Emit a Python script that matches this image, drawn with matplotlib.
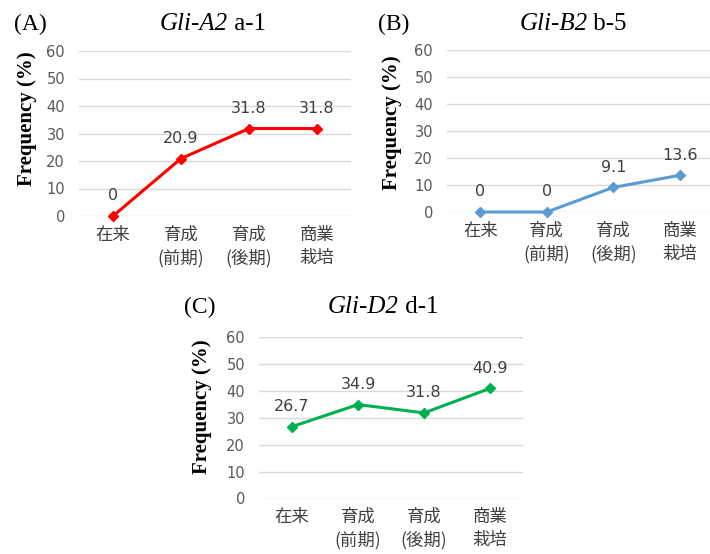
import matplotlib
matplotlib.use("Agg")
import matplotlib.pyplot as plt

categories = ["在来", "育成\n(前期)", "育成\n(後期)", "商業\n栽培"]
vals_a = [0, 20.9, 31.8, 31.8]
vals_b = [0, 0, 9.1, 13.6]
vals_d = [26.7, 34.9, 31.8, 40.9]
yticks = [0, 10, 20, 30, 40, 50, 60]

W, H = 710, 554
fig = plt.figure(figsize=(7.1, 5.54), dpi=100)
renderer = fig.canvas.get_renderer()

def px_axes(x0, x1, y0, y1):
    return fig.add_axes([x0 / W, 1 - y0 / H, (x1 - x0) / W, (y0 - y1) / H])

def two_part_title(cx, cy, it_part, rm_part, size):
    t1 = fig.text(0, 0, it_part, fontsize=size, family="Liberation Serif",
                  style="italic", va="center", ha="left")
    t2 = fig.text(0, 0, rm_part, fontsize=size, family="Liberation Serif",
                  va="center", ha="left")
    w1 = t1.get_window_extent(renderer).width
    w2 = t2.get_window_extent(renderer).width
    total = w1 + w2
    x0 = cx - total / 2
    t1.set_position((x0 / W, 1 - cy / H))
    t2.set_position(((x0 + w1) / W, 1 - cy / H))

panels = [
    dict(rect=(79, 351, 216, 51), vals=vals_a, color="#FF0000",
         letter="(A)", lx=30, it="Gli-A2", rm=" a-1", tx=213, ty=24,
         ylx=27, yly=119),
    dict(rect=(447, 713, 212, 50), vals=vals_b, color="#5B9BD5",
         letter="(B)", lx=394, it="Gli-B2", rm=" b-5", tx=573, ty=24,
         ylx=392, yly=123),
    dict(rect=(259, 523, 498.5, 337), vals=vals_d, color="#00B050",
         letter="(C)", lx=200, it="Gli-D2", rm=" d-1", tx=383, ty=307,
         ylx=202, yly=407),
]

for p in panels:
    ax = px_axes(*p["rect"])
    x = list(range(len(categories)))
    ax.plot(x, p["vals"], color=p["color"], lw=2.2, marker="D", ms=5.5,
            clip_on=False, zorder=3)
    for xi, v in zip(x, p["vals"]):
        ax.annotate(f"{v:g}", (xi, v), xytext=(0, 9), textcoords="offset points",
                    ha="center", va="bottom", fontsize=11.5, color="#404040",
                    family="DejaVu Sans")
    ax.set_xlim(-0.5, 3.5)
    ax.set_ylim(0, 60)
    ax.set_yticks(yticks)
    ax.set_yticklabels([str(t) for t in yticks], fontsize=10.5, color="#595959",
                       family="DejaVu Sans")
    ax.set_xticks(x)
    ax.set_xticklabels(categories, fontsize=12.5, color="#404040",
                       family=["Noto Sans CJK JP", "DejaVu Sans"], linespacing=1.35)
    ax.tick_params(axis="both", length=0)
    ax.tick_params(axis="y", pad=10)
    ax.tick_params(axis="x", pad=7)
    ax.grid(axis="y", color="#D9D9D9", lw=1)
    ax.set_axisbelow(True)
    for s in ax.spines.values():
        s.set_visible(False)
    ax.patch.set_alpha(0)
    top = 1 - p["ty"] / H
    fig.text(p["lx"] / W, top, p["letter"], ha="center", va="center",
             fontsize=17, family="Liberation Serif")
    two_part_title(p["tx"], p["ty"], p["it"], p["rm"], 18)
    fig.text(p["ylx"] / W, 1 - p["yly"] / H, "Frequency (%)", rotation=90,
             ha="center", va="center", fontsize=15, fontweight="bold",
             family="Liberation Serif")

fig.savefig("out.png", dpi=100)
